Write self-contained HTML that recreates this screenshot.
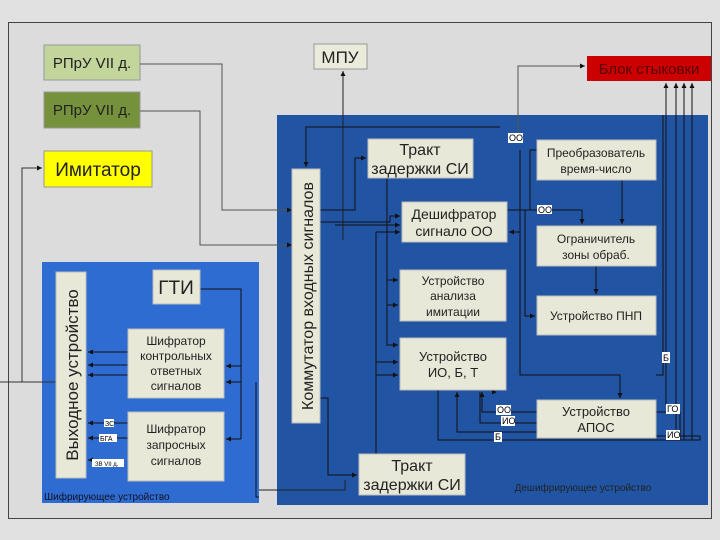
<!DOCTYPE html>
<html><head><meta charset="utf-8"><style>
html,body{margin:0;padding:0;background:#e1e1e1;}
svg{display:block;}
text{font-family:"Liberation Sans",sans-serif;}
</style></head><body>
<svg width="720" height="540" viewBox="0 0 720 540" xmlns="http://www.w3.org/2000/svg">
<defs><marker id="a" markerWidth="6" markerHeight="6" refX="5" refY="3" orient="auto"><path d="M0,0.5 L5,3 L0,5.5z" fill="#111"/></marker></defs>
<rect x="0" y="0" width="720" height="540" fill="#e1e1e1"/>
<rect x="8.5" y="22.5" width="703" height="496" fill="#dcdcdc" stroke="#444" stroke-width="1"/>
<!-- blue areas -->
<rect x="277" y="115" width="431" height="390" fill="#2254a4"/>
<rect x="42" y="262" width="217" height="241" fill="#2f6cd2"/>
<!-- top boxes -->
<rect x="44" y="45" width="96" height="35" fill="#c2d59a" stroke="#999"/>
<text x="92" y="68" font-size="15" text-anchor="middle" fill="#222">РПрУ VII д.</text>
<rect x="44" y="92" width="96" height="36" fill="#76913c" stroke="#999"/>
<text x="92" y="115" font-size="15" text-anchor="middle" fill="#222">РПрУ VII д.</text>
<rect x="44" y="151" width="108" height="36" fill="#ffff00" stroke="#999"/>
<text x="98" y="176" font-size="19" text-anchor="middle" fill="#222">Имитатор</text>
<rect x="314" y="44" width="53" height="25" fill="#ebebdc" stroke="#999"/>
<text x="340" y="63" font-size="17" text-anchor="middle" fill="#222">МПУ</text>
<rect x="587" y="56" width="124" height="25" fill="#cc0000"/>
<text x="649" y="74" font-size="15" text-anchor="middle" fill="#550000">Блок стыковки</text>
<!-- connectors outside -->
<g stroke="#555" fill="none" stroke-width="1">
<path d="M140,64 H222 V210 H292" marker-end="url(#a)"/>
<path d="M140,111 H200 V245 H292" marker-end="url(#a)"/>
<path d="M343,240 V71" stroke="#222" marker-end="url(#a)"/>
<path d="M518,133 V66 H585" marker-end="url(#a)"/>
<path d="M22,382 V168 H42" stroke="#333" marker-end="url(#a)"/>
<path d="M0,382 H56" stroke="#333"/>
<path d="M259,490 H345 V480" stroke="#222"/>
</g>
<g stroke="#111" fill="none" stroke-width="1">
<path d="M666,405 V83" marker-end="url(#a)"/>
<path d="M676,430 V83" marker-end="url(#a)"/>
<path d="M684,440 V83" marker-end="url(#a)"/>
<path d="M692,440 V83" marker-end="url(#a)"/>
<!-- inside decoder -->
<path d="M500,127 H306 V167" marker-end="url(#a)"/>
<path d="M320,210 H355 V158 H366" marker-end="url(#a)"/>
<path d="M320,222 H390 V216 H400" marker-end="url(#a)"/>
<path d="M335,225 H400" marker-end="url(#a)"/>
<path d="M376,232 H400" marker-end="url(#a)"/>
<path d="M387,178 V345 H398" marker-end="url(#a)"/>
<path d="M376,232 V455"/>
<path d="M376,362 H398" marker-end="url(#a)"/>
<path d="M376,375 H398" marker-end="url(#a)"/>
<path d="M387,280 H398" marker-end="url(#a)"/>
<path d="M387,305 H398" marker-end="url(#a)"/>
<path d="M320,398 H328 V475 H357" marker-end="url(#a)"/>
<path d="M507,210 H530 V150 H537"/>
<path d="M525,210 V316 H535" marker-end="url(#a)"/>
<path d="M530,210 H582 V224" marker-end="url(#a)"/>
<path d="M622,180 V224" marker-end="url(#a)"/>
<path d="M596,266 V294" marker-end="url(#a)"/>
<path d="M520,150 V375 H620 V398" marker-end="url(#a)"/>
<path d="M520,232 H509" marker-end="url(#a)"/>
<path d="M656,375 H663 V115"/>
<path d="M537,412 H482 V392" marker-end="url(#a)"/>
<path d="M537,423 H480 V392"/>
<path d="M537,432 H457 V392" marker-end="url(#a)"/>
<path d="M656,412 H680 V440"/>
<path d="M656,436 H700 V440 H438 V390"/>
<path d="M497,392 V392" marker-end="url(#a)"/>
<!-- encoder -->
<path d="M200,289 H241 V439"/>
<path d="M241,366 H226" marker-end="url(#a)"/>
<path d="M241,439 H226" marker-end="url(#a)"/>
<path d="M241,382 H226" marker-end="url(#a)"/>
<path d="M256,382 V497 H259"/>
<path d="M128,352 H88" marker-end="url(#a)"/>
<path d="M128,365 H88" marker-end="url(#a)"/>
<path d="M128,375 H88" marker-end="url(#a)"/>
<path d="M128,423 H88" marker-end="url(#a)"/>
<path d="M128,438 H88" marker-end="url(#a)"/>
<path d="M106,460 H88" marker-end="url(#a)"/>
</g>
<!-- decoder nodes -->
<g fill="#e8e8d8" stroke="#bbb">
<rect x="292" y="169" width="28" height="254"/>
<rect x="368" y="139" width="105" height="39"/>
<rect x="402" y="202" width="105" height="40"/>
<rect x="537" y="140" width="119" height="40"/>
<rect x="537" y="226" width="119" height="40"/>
<rect x="400" y="270" width="106" height="51"/>
<rect x="537" y="296" width="119" height="39"/>
<rect x="400" y="338" width="106" height="52"/>
<rect x="537" y="400" width="119" height="38"/>
<rect x="359" y="454" width="106" height="41"/>
<rect x="56" y="272" width="30" height="206"/>
<rect x="153" y="270" width="47" height="34"/>
<rect x="128" y="329" width="96" height="69"/>
<rect x="128" y="412" width="96" height="69"/>
</g>
<g fill="#222" text-anchor="middle">
<text transform="translate(313,296) rotate(-90)" font-size="16">Коммутатор входных сигналов</text>
<text x="420" y="155" font-size="16">Тракт</text>
<text x="420" y="174" font-size="16">задержки СИ</text>
<text x="454" y="219" font-size="14">Дешифратор</text>
<text x="454" y="236" font-size="14">сигнало ОО</text>
<text x="596" y="157" font-size="12">Преобразователь</text>
<text x="596" y="173" font-size="12">время-число</text>
<text x="596" y="243" font-size="12">Ограничитель</text>
<text x="596" y="259" font-size="12">зоны обраб.</text>
<text x="453" y="285" font-size="12">Устройство</text>
<text x="453" y="300" font-size="12">анализа</text>
<text x="453" y="316" font-size="12">имитации</text>
<text x="596" y="320" font-size="12">Устройство ПНП</text>
<text x="453" y="361" font-size="13">Устройство</text>
<text x="453" y="377" font-size="13">ИО, Б, Т</text>
<text x="596" y="416" font-size="13">Устройство</text>
<text x="596" y="432" font-size="13">АПОС</text>
<text x="412" y="471" font-size="16">Тракт</text>
<text x="412" y="490" font-size="16">задержки СИ</text>
<text x="583" y="491" font-size="10">Дешифрирующее устройство</text>
<text transform="translate(78,375) rotate(-90)" font-size="17">Выходное устройство</text>
<text x="176" y="294" font-size="19">ГТИ</text>
<text x="176" y="345" font-size="12">Шифратор</text>
<text x="176" y="360" font-size="12">контрольных</text>
<text x="176" y="375" font-size="12">ответных</text>
<text x="176" y="390" font-size="12">сигналов</text>
<text x="176" y="433" font-size="12">Шифратор</text>
<text x="176" y="449" font-size="12">запросных</text>
<text x="176" y="465" font-size="12">сигналов</text>
<text x="44" y="500" font-size="10" text-anchor="start" fill="#112">Шифрирующее устройство</text>
</g>
<!-- small labels -->
<g font-size="9" fill="#000">
<rect x="508" y="133" width="15" height="10" fill="#fff"/><text x="509" y="141">ОО</text>
<rect x="537" y="205" width="15" height="9" fill="#fff"/><text x="538" y="213">ОО</text>
<rect x="662" y="352" width="8" height="11" fill="#fff"/><text x="663" y="361">Б</text>
<rect x="666" y="404" width="14" height="10" fill="#fff"/><text x="667" y="412">ГО</text>
<rect x="666" y="430" width="14" height="10" fill="#fff"/><text x="667" y="438">ИО</text>
<rect x="496" y="405" width="15" height="10" fill="#fff"/><text x="497" y="413">ОО</text>
<rect x="501" y="416" width="14" height="10" fill="#fff"/><text x="502" y="424">ИО</text>
<rect x="494" y="432" width="8" height="10" fill="#fff"/><text x="495" y="440">Б</text>
<rect x="104" y="419" width="10" height="8" fill="#fff"/><text x="105" y="426" font-size="7">ЗС</text>
<rect x="99" y="434" width="18" height="8" fill="#fff"/><text x="100" y="441" font-size="7">БГА</text>
<rect x="92" y="459" width="32" height="8" fill="#fff"/><text x="95" y="466" font-size="6">ЗВ VII д.</text>
</g>
</svg>
</body></html>
